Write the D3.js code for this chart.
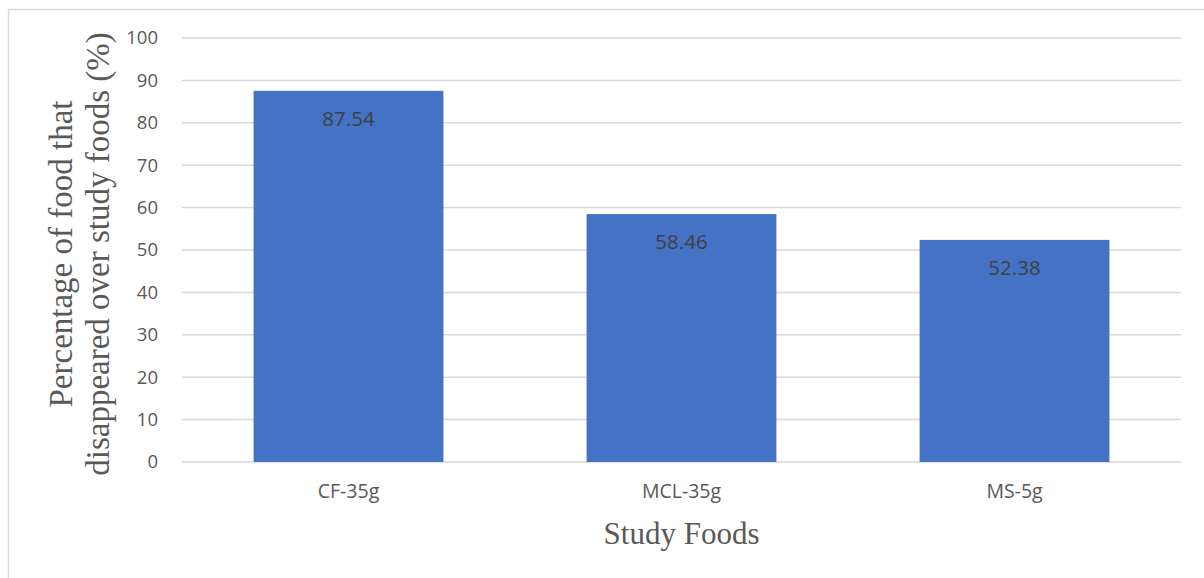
<!DOCTYPE html>
<html>
<head>
<meta charset="utf-8">
<script src="https://cdn.jsdelivr.net/npm/d3@7"></script>
<style>
  body { margin: 0; background: #fff; }
  svg { display: block; }
</style>
</head>
<body>
<svg id="chart" width="1204" height="578"></svg>
<script>
// study foods and the share that disappeared
var foods = ['CF-35g', 'MCL-35g', 'MS-5g'];
var pctDisappeared = [87.54, 58.46, 52.38];
var yTicks = [0, 10, 20, 30, 40, 50, 60, 70, 80, 90, 100];

var svg = d3.select('#chart');
var margin = {left: 182, right: 23, top: 38, bottom: 116};
var W = 1204, H = 578;

// chart frame (only left and top edges are inside the picture)
svg.append('rect')
  .attr('x', 8.5).attr('y', 9.5)
  .attr('width', 1300).attr('height', 700)
  .attr('fill', 'none').attr('stroke', '#d9d9d9').attr('stroke-width', 1.5);

var x = d3.scaleBand()
  .domain(foods)
  .range([margin.left, W - margin.right])
  .paddingInner(0.43)
  .paddingOuter(0.215);

var y = d3.scaleLinear()
  .domain([0, 100])
  .range([H - margin.bottom, margin.top]);

// gridlines
svg.append('g')
  .selectAll('line')
  .data(yTicks)
  .join('line')
  .attr('x1', margin.left).attr('x2', W - margin.right)
  .attr('y1', function(d) { return y(d); })
  .attr('y2', function(d) { return y(d); })
  .attr('stroke', '#d9d9d9').attr('stroke-width', 1.5);

// y axis tick labels
var yAxis = d3.axisLeft(y).tickValues(yTicks).tickSize(0).tickPadding(0);
var gy = svg.append('g')
  .attr('transform', 'translate(' + (margin.left - 24) + ',0)')
  .call(yAxis);
gy.select('.domain').remove();
gy.selectAll('text')
  .attr('font-family', 'Open Sans, Noto Sans, sans-serif')
  .attr('font-size', 18.5)
  .attr('fill', '#595959');

// bars
var data = foods.map(function(f, i) { return {food: f, value: pctDisappeared[i]}; });
svg.append('g')
  .selectAll('rect')
  .data(data)
  .join('rect')
  .attr('x', function(d) { return x(d.food); })
  .attr('width', x.bandwidth())
  .attr('y', function(d) { return y(d.value); })
  .attr('height', function(d) { return y(0) - y(d.value); })
  .attr('fill', '#4472c4');

// value labels inside the bar tops
svg.append('g')
  .selectAll('text')
  .data(data)
  .join('text')
  .attr('x', function(d) { return x(d.food) + x.bandwidth() / 2; })
  .attr('y', function(d) { return y(d.value) + 35; })
  .attr('text-anchor', 'middle')
  .attr('font-family', 'Open Sans, Noto Sans, sans-serif')
  .attr('font-size', 20.5)
  .attr('fill', '#404040')
  .text(function(d) { return d.value.toFixed(2); });

// x axis labels
var xAxis = d3.axisBottom(x).tickSize(0).tickPadding(0);
var gx = svg.append('g')
  .attr('transform', 'translate(0,' + (y(0) + 22) + ')')
  .call(xAxis);
gx.select('.domain').remove();
gx.selectAll('text')
  .attr('font-family', 'Open Sans, Noto Sans, sans-serif')
  .attr('font-size', 19.5)
  .attr('fill', '#595959');

// axis titles
svg.append('text')
  .attr('x', (margin.left + W - margin.right) / 2)
  .attr('y', 544)
  .attr('text-anchor', 'middle')
  .attr('font-family', 'Liberation Serif, Times New Roman, serif')
  .attr('font-size', 31)
  .attr('fill', '#595959')
  .text('Study Foods');

var yTitle = svg.append('text')
  .attr('transform', 'translate(72,254) rotate(-90)')
  .attr('text-anchor', 'middle')
  .attr('font-family', 'Liberation Serif, Times New Roman, serif')
  .attr('font-size', 33)
  .attr('fill', '#595959');
yTitle.append('tspan').attr('x', 0).attr('y', 0).text('Percentage of food that');
yTitle.append('tspan').attr('x', 0).attr('y', 37).text('disappeared over study foods (%)');
</script>
</body>
</html>
